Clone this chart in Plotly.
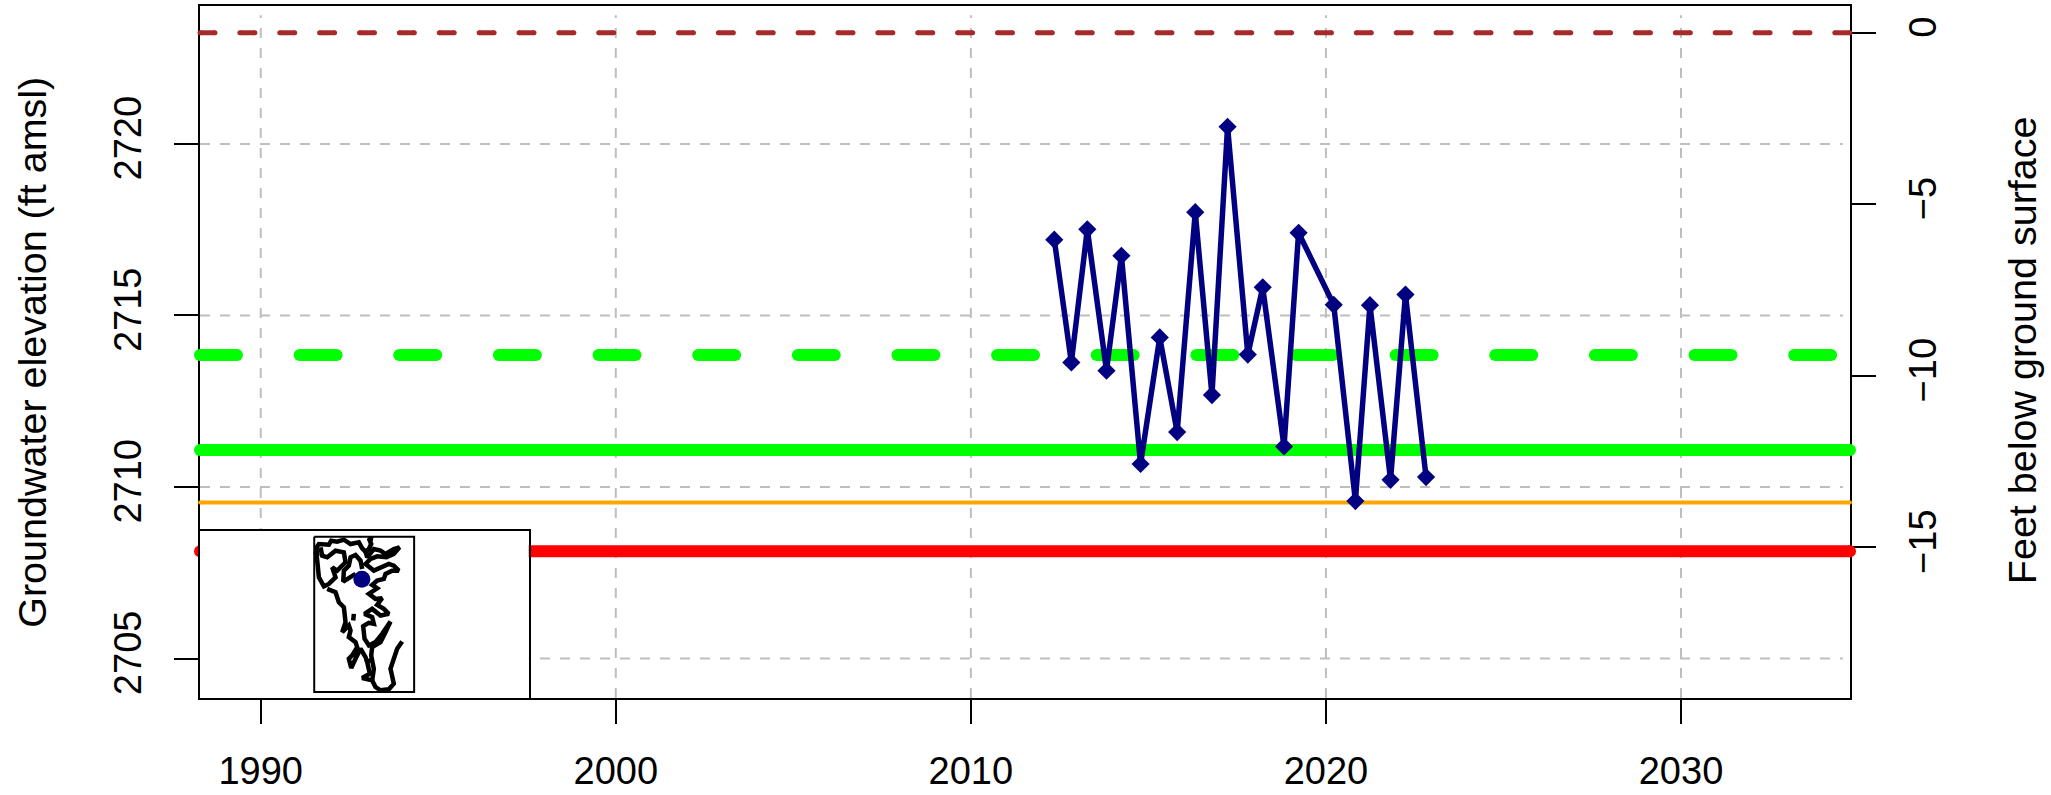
import plotly.graph_objects as go

FONT = "Liberation Sans, Arial, sans-serif"

# ---- data ----
years = [2012.35, 2012.83, 2013.28, 2013.82, 2014.24, 2014.78, 2015.32, 2015.81, 2016.32, 2016.79,
         2017.23, 2017.80, 2018.22, 2018.82, 2019.23, 2020.22, 2020.83, 2021.24, 2021.82, 2022.24, 2022.82]
levels = [2717.21, 2713.63, 2717.51, 2713.39, 2716.74, 2710.67, 2714.36, 2711.60, 2718.01, 2712.68,
          2720.50, 2713.86, 2715.82, 2711.18, 2717.41, 2715.31, 2709.59, 2715.30, 2710.21, 2715.61, 2710.29]

ground_surface = 2723.24
green_dashed = 2713.85
green_solid = 2711.08
orange_level = 2709.55
red_level = 2708.13

x_ticks = [1990, 2000, 2010, 2020, 2030]
x_grid = [1990, 2000, 2010, 2020, 2030, 2040]
y_ticks = [2705, 2710, 2715, 2720]
y2_ticks = [0, -5, -10, -15]

x_range = [1988.29, 2034.76]
y_range = [2703.85, 2724.02]
grid_top = 2723.75

# inset map outlines, in inset picture units
map_frame_x = [401, 701, 701, 401, 401]
map_frame_y = [113, 113, 580, 580, 113]
map_lines = [
    ([400, 410, 408, 415, 445, 452, 470, 490, 510, 535, 545, 555, 565, 572, 565, 578],
     [168, 165, 145, 135, 137, 125, 128, 122, 135, 130, 148, 158, 150, 135, 118, 120]),
    ([555, 560, 580, 600, 615, 640, 657, 640, 618, 590, 570, 555, 580, 600, 625, 640, 655, 635, 615, 610, 590, 575, 590, 565, 585, 605, 590, 610, 625, 600, 575, 552, 575, 580, 565, 548, 552, 565, 585, 605, 630, 615, 600, 575, 572, 580, 575],
     [158, 175, 150, 155, 165, 150, 145, 165, 175, 172, 180, 195, 215, 205, 195, 200, 215, 215, 225, 240, 245, 258, 268, 285, 300, 298, 318, 330, 345, 350, 330, 345, 355, 375, 372, 382, 420, 440, 430, 405, 368, 400, 430, 445, 470, 510, 545]),
    ([408, 410, 415, 430, 445, 465, 455, 470, 495, 490, 465, 440, 425, 420],
     [165, 200, 235, 262, 255, 235, 205, 215, 190, 160, 155, 175, 170, 145]),
    ([545, 540, 525, 510, 505, 490, 488, 510, 525],
     [210, 185, 168, 175, 200, 215, 248, 235, 225]),
    ([440, 465, 475, 490, 495, 485, 505, 510, 505, 525, 530, 515, 505, 512, 525, 540, 555, 560],
     [270, 280, 310, 325, 370, 400, 380, 395, 415, 430, 445, 470, 480, 508, 480, 450, 475, 490]),
    ([520, 518], [345, 365]),
    ([665, 650, 640, 630, 640, 625, 600, 585, 575, 545, 568, 560, 578],
     [428, 450, 480, 510, 555, 572, 575, 565, 545, 538, 525, 490, 480]),
]
well_x = [544]
well_y = [241]

# ---- helper for round-capped dashed lines ----
def dash_xy(y, on, period, start, end):
    xs, ys = [], []
    x = start
    while x < end:
        xs += [x, min(x + on, end), None]
        ys += [y, y, None]
        x += period
    return xs, ys

PX_PER_YEAR = 35.53
GRID = "#BEBEBE"
fig = go.Figure()

# grid
gx, gy = [], []
for v in x_grid:
    gx += [v, v, None]
    gy += [y_range[0], grid_top, None]
fig.add_trace(go.Scatter(x=gx, y=gy, mode="lines", cliponaxis=False, hoverinfo="skip",
                         line=dict(color=GRID, width=2, dash="10px,10px")))
hx, hy = [], []
for v in y_ticks:
    hx += [x_range[0], x_range[1] - 0.2, None]
    hy += [v, v, None]
fig.add_trace(go.Scatter(x=hx, y=hy, mode="lines", cliponaxis=False, hoverinfo="skip",
                         line=dict(color=GRID, width=2, dash="10px,10px")))

def capped(xs, ys, color, width):
    fig.add_trace(go.Scatter(x=xs, y=ys, mode="lines+markers", cliponaxis=False, hoverinfo="skip",
                             line=dict(color=color, width=width),
                             marker=dict(color=color, size=width, symbol="circle", line=dict(width=0))))

bx, by = dash_xy(ground_surface, 15 / PX_PER_YEAR, 39.9 / PX_PER_YEAR, x_range[0], x_range[1])
capped(bx, by, "#A52A2A", 5)
gdx, gdy = dash_xy(green_dashed, 37 / PX_PER_YEAR, 99.7 / PX_PER_YEAR, x_range[0], x_range[1])
capped(gdx, gdy, "#00FF00", 12)
capped(x_range, [green_solid, green_solid], "#00FF00", 12)
capped(x_range, [orange_level, orange_level], "#FFA500", 4)
capped(x_range, [red_level, red_level], "#FF0000", 12)

# hydrograph
fig.add_trace(go.Scatter(x=years, y=levels, mode="lines+markers", cliponaxis=False,
                         line=dict(color="#000080", width=5.5),
                         marker=dict(color="#000080", symbol="diamond", size=14, line=dict(width=0))))

# axis for feet below ground surface
fig.add_trace(go.Scatter(x=[x_range[0]], y=[0], yaxis="y2", mode="markers", opacity=0,
                         marker=dict(size=1), hoverinfo="skip"))

# inset
fig.add_trace(go.Scatter(x=map_frame_x, y=map_frame_y, xaxis="x2", yaxis="y3", mode="lines",
                         hoverinfo="skip", line=dict(color="black", width=2)))
for mx, my in map_lines:
    fig.add_trace(go.Scatter(x=mx, y=my, xaxis="x2", yaxis="y3", mode="lines", hoverinfo="skip",
                             cliponaxis=False, line=dict(color="black", width=4.5, shape="linear")))
fig.add_trace(go.Scatter(x=well_x, y=well_y, xaxis="x2", yaxis="y3", mode="markers", hoverinfo="skip",
                         marker=dict(color="#000080", size=17, line=dict(width=0))))

W, H = 2051, 795
L, R, T, B = 199.5, 1850, 3.5, 704
tickfont = dict(family=FONT, size=38, color="black")
axis_common = dict(showgrid=False, zeroline=False, showline=True, linecolor="black", linewidth=2,
                   ticks="outside", ticklen=24, tickwidth=2, tickcolor="black", tickfont=tickfont,
                   layer="below traces")

fig.update_layout(
    width=W, height=H, showlegend=False, paper_bgcolor="white", plot_bgcolor="white",
    margin=dict(l=L, r=W - R, t=T, b=H - B, pad=0),
    xaxis=dict(range=x_range, tickvals=x_ticks, ticktext=[str(v) for v in x_ticks], tickangle=0,
               mirror=True, ticklabelstandoff=14, **axis_common),
    yaxis=dict(range=y_range, tickvals=y_ticks, ticktext=[str(v) for v in y_ticks], tickangle=-90,
               ticklabelstandoff=18, **axis_common),
    yaxis2=dict(range=[y_range[0] - ground_surface, y_range[1] - ground_surface], overlaying="y", side="right",
                tickvals=y2_ticks, ticktext=["0", "\u22125", "\u221210", "\u221215"], tickangle=-90,
                ticklabelstandoff=14, **axis_common),
    xaxis2=dict(domain=[0, (528.3 - L) / (R - L)], range=[58, 1045], anchor="y3", showticklabels=False, ticks="",
                showgrid=False, zeroline=False, showline=True, mirror=True, linecolor="black", linewidth=2),
    yaxis3=dict(domain=[0, (B - 535) / (B - T)], range=[598, 96], anchor="x2", showticklabels=False, ticks="",
                showgrid=False, zeroline=False, showline=True, mirror=True, linecolor="black", linewidth=2),
    annotations=[
        dict(text="Groundwater elevation (ft amsl)", xref="paper", yref="paper", x=(32 - L) / (R - L),
             y=(B - 354) / (B - T), textangle=-90, showarrow=False, xanchor="center", yanchor="middle",
             font=dict(family=FONT, size=39.5, color="black")),
        dict(text="Feet below ground surface", xref="paper", yref="paper", x=(2022 - L) / (R - L),
             y=(B - 352) / (B - T), textangle=-90, showarrow=False, xanchor="center", yanchor="middle",
             font=dict(family=FONT, size=39.5, color="black")),
    ],
)

fig.write_html("out.html", config={"displayModeBar": False},
               post_script="document.body.style.margin='0';")
